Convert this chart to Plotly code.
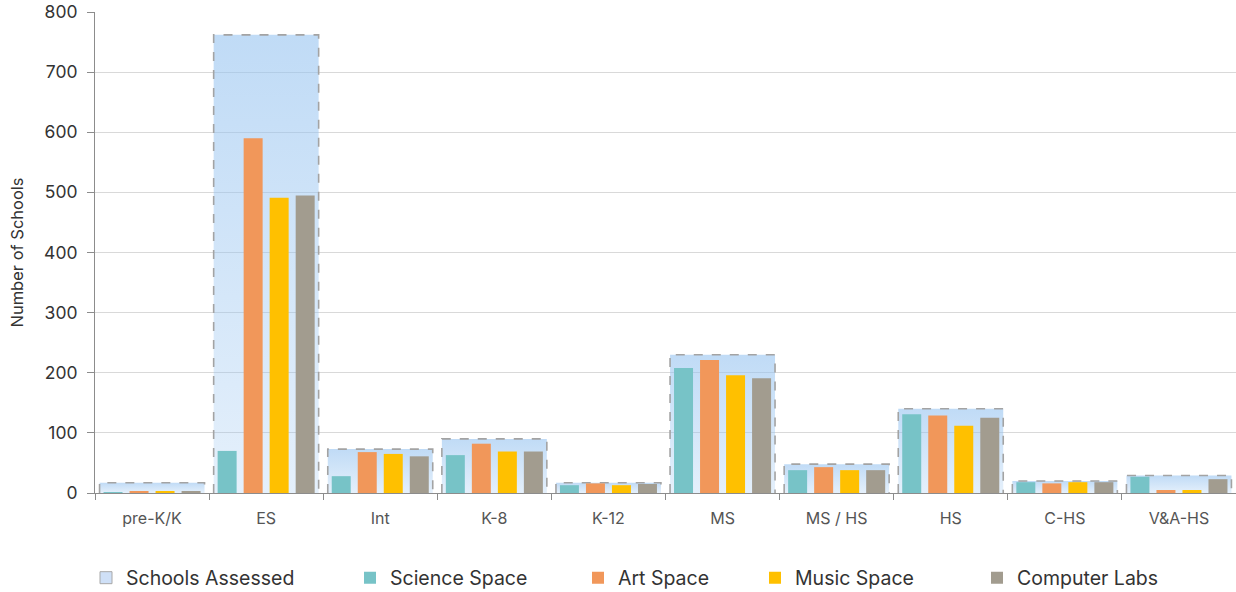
import plotly.graph_objects as go

categories = ["pre-K/K", "ES", "Int", "K-8", "K-12", "MS", "MS / HS", "HS", "C-HS", "V&A-HS"]
schools_assessed = [17, 762, 73, 90, 17, 230, 48, 140, 20, 29]
science_space = [1, 70, 28, 63, 13, 208, 38, 131, 18, 27]
art_space = [3, 590, 68, 82, 16, 221, 43, 129, 16, 5]
music_space = [3, 491, 65, 69, 13, 196, 38, 112, 18, 5]
computer_labs = [3, 495, 61, 69, 15, 191, 38, 125, 18, 23]

FONT = "Inter"
idx = list(range(len(categories)))
half = 0.46

fig = go.Figure()

# Schools Assessed: gradient-filled dashed boxes (drawn on main axes, beneath bars)
for i, v in zip(idx, schools_assessed):
    fig.add_trace(go.Scatter(
        x=[i - half, i - half, i + half, i + half],
        y=[0, v, v, 0],
        mode="lines",
        fill="toself",
        fillgradient=dict(type="vertical",
                          colorscale=[[0, "rgba(150,195,240,0.25)"], [1, "rgba(150,195,240,0.6)"]]),
        line=dict(color="#a3a3a3", width=1.6, dash="dash"),
        legendgroup="sa", showlegend=False, hoverinfo="skip",
        xaxis="x", yaxis="y",
    ))

# legend entry for Schools Assessed
fig.add_trace(go.Bar(
    x=[None], y=[None], name="Schools Assessed",
    marker=dict(color="#cfe0f7", line=dict(color="#a8a8a8", width=1)),
    legendgroup="sa", legend="legend", xaxis="x", yaxis="y",
))

series = [
    ("Science Space", science_space, "#77c3c7", "legend2"),
    ("Art Space", art_space, "#f1975a", "legend3"),
    ("Music Space", music_space, "#ffc000", "legend4"),
    ("Computer Labs", computer_labs, "#a29c8f", "legend5"),
]
for name, vals, col, lg in series:
    fig.add_trace(go.Bar(
        x=idx, y=vals, name=name, marker=dict(color=col, line=dict(width=0)),
        xaxis="x2", yaxis="y2", legend=lg,
    ))

legend_lefts = [86, 350, 578, 755, 977]
leg_common = dict(xref="container", yref="container", y=1 - 578 / 592, yanchor="middle",
                  xanchor="left", orientation="h", bgcolor="rgba(0,0,0,0)",
                  font=dict(family=FONT, size=19.5, color="#333333"))
legends = {}
for k, lx in enumerate(legend_lefts):
    key = "legend" if k == 0 else f"legend{k + 1}"
    legends[key] = dict(x=lx / 1236, **leg_common)

fig.update_layout(
    width=1236, height=592,
    margin=dict(l=95, r=0, t=12, b=99),
    paper_bgcolor="white", plot_bgcolor="white",
    barmode="group", bargap=0.088, bargroupgap=0.27,
    font=dict(family=FONT, color="#333333"),
    xaxis=dict(
        range=[-0.5, len(categories) - 0.5],
        tickmode="array", tickvals=idx, ticktext=categories,
        ticks="", showgrid=False, zeroline=False,
        showline=True, linecolor="#8c8c8c", linewidth=1,
        tickfont=dict(family=FONT, size=16, color="#555555"),
        ticklabelstandoff=11,
        minor=dict(tickmode="array", tickvals=[i - 0.5 for i in idx] + [len(categories) - 0.5],
                   ticks="outside", ticklen=6, tickcolor="#8c8c8c", showgrid=False),
    ),
    yaxis=dict(
        range=[0, 800], dtick=100,
        ticks="outside", ticklen=7, tickcolor="#8c8c8c",
        showgrid=True, gridcolor="#d9d9d9", gridwidth=1,
        zeroline=False, showline=True, linecolor="#8c8c8c", linewidth=1,
        tickfont=dict(family=FONT, size=17.5, color="#333333"),
        ticklabelstandoff=6,
        title=dict(text="Number of Schools", font=dict(family=FONT, size=16.5, color="#333333"),
                   standoff=16),
    ),
    xaxis2=dict(overlaying="x", range=[-0.5, len(categories) - 0.5], visible=False),
    yaxis2=dict(overlaying="y", range=[0, 800], visible=False),
    **legends,
)

fig.write_html("out.html", config={"displayModeBar": False},
               post_script="document.body.style.margin='0';")
